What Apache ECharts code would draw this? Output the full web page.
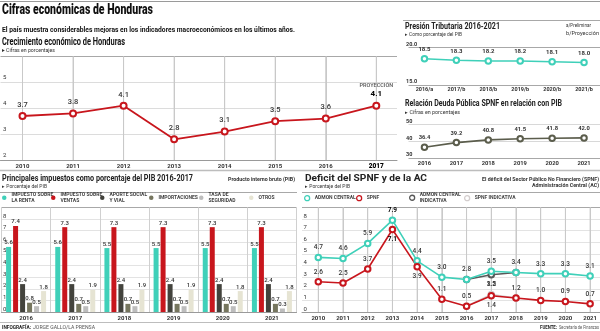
<!DOCTYPE html>
<html>
<head>
<meta charset="utf-8">
<script src="https://cdn.jsdelivr.net/npm/echarts@6/dist/echarts.min.js"></script>
<style>
  html, body { margin: 0; padding: 0; background: #fff; }
  #c { width: 600px; height: 331px; }
</style>
</head>
<body>
<div id="c"></div>
<script>
// ---- Crecimiento económico (%) ----
const growthYears = ['2010', '2011', '2012', '2013', '2014', '2015', '2016', '2017'];
const growthValues = [3.7, 3.8, 4.1, 2.8, 3.1, 3.5, 3.6, 4.1];

// ---- Presión tributaria (% del PIB) ----
const taxYears = ['2016/a', '2017/b', '2018/b', '2019/b', '2020/b', '2021/b'];
const taxPressure = [18.5, 18.3, 18.2, 18.2, 18.1, 18.0];

// ---- Deuda pública SPNF (% del PIB) ----
const debtYears = ['2016', '2017', '2018', '2019', '2020', '2021'];
const debtRatio = [36.4, 39.2, 40.8, 41.5, 41.8, 42.0];

// ---- Principales impuestos (% del PIB) ----
const taxBarYears = ['2016', '2017', '2018', '2019', '2020', '2021'];
const taxBarNames = ['IMPUESTO SOBRE\nLA RENTA', 'IMPUESTO SOBRE\nVENTAS', 'APORTE SOCIAL\nY VIAL', 'IMPORTACIONES', 'TASA DE\nSEGURIDAD', 'OTROS'];
const impuestoRenta = [5.6, 5.6, 5.5, 5.5, 5.5, 5.5];
const impuestoVentas = [7.4, 7.3, 7.3, 7.3, 7.3, 7.3];
const aporteSocial = [2.4, 2.4, 2.4, 2.4, 2.4, 2.4];
const importaciones = [0.8, 0.7, 0.7, 0.7, 0.7, 0.7];
const tasaSeguridad = [0.5, 0.5, 0.5, 0.5, 0.5, 0.3];
const otros = [1.8, 1.9, 1.9, 1.9, 1.8, 1.8];

// ---- Déficit SPNF y Administración Central (% del PIB) ----
const deficitYears = ['2010', '2011', '2012', '2013', '2014', '2015', '2016', '2017', '2018', '2019', '2020', '2021'];
const deficitNames = ['ADMON CENTRAL', 'SPNF', 'ADMON CENTRAL\nINDICATIVA', 'SPNF INDICATIVA'];
const admonCentral = [4.7, 4.6, 5.9, 7.9, 4.4, 3.0, 2.8, 3.5, 3.4, 3.3, 3.3, 3.1];
const spnf = [2.6, 2.5, 3.7, 7.1, 3.9, 1.1, 0.5, 1.4, 1.2, 1.0, 0.9, 0.7];
const admonCentralIndicativa = [null, null, null, null, null, null, 2.8, 3.2, 3.4, null, null, null];
const spnfIndicativa = [null, null, null, null, null, null, 0.5, 1.5, 1.2, null, null, null];

const FONT = 'Roboto, "Noto Sans", sans-serif';
const RED = '#c8161d';
const TEAL = '#3fd0b9';
const OLIVE = '#5b5d4c';
const barColors = [TEAL, RED, '#43433d', '#76765f', '#bdbdbd', '#e6e4d3'];
const deficitColors = [TEAL, RED, '#585858', '#d3cdcd'];
const FAINT = '#e3e3e3';
const VGRID = '#c9c9c9';
const RULE = '#a8a8a8';

// Condensed header text: measured, then squeezed horizontally to the set width.
const measure = document.createElement('canvas').getContext('2d');
function headText(text, x, y, size, weight, width, fill, align) {
  const font = weight + ' ' + size + 'px ' + FONT;
  measure.font = font;
  const w = measure.measureText(text).width;
  return {
    type: 'text', x: x, y: y, scaleX: width ? width / w : 1, silent: true,
    style: {
      text: text, font: font, fill: fill || '#1a1a1a',
      align: align || 'left', textAlign: align || 'left',
      verticalAlign: 'middle', textVerticalAlign: 'middle'
    }
  };
}
function rule(x1, y1, x2, y2, color, width) {
  return { type: 'line', silent: true, shape: { x1: x1, y1: y1, x2: x2, y2: y2 },
    style: { stroke: color || RULE, lineWidth: width || 1 } };
}

const graphics = [
  rule(0, 1.5, 600, 1.5, '#9a9a9a', 1),
  rule(0, 170.5, 600, 170.5, '#bdbdbd', 1.5),
  rule(403, 20.5, 600, 20.5, RULE, 1),
  rule(0, 192.5, 297, 192.5, RULE, 1),
  rule(302, 192.5, 600, 192.5, RULE, 1),
  rule(0, 322.5, 600, 322.5, '#bdbdbd', 1),
  headText('Cifras económicas de Honduras', 2, 10.5, 15, 900, 151, '#111'),
  headText('El país muestra considerables mejoras en los indicadores macroeconómicos en los últimos años.', 2, 30, 8, 'bold', 293, '#111'),
  headText('Crecimiento económico de Honduras', 2, 42.5, 10, 'bold', 123, '#111'),
  headText('▸ Cifras en porcentajes', 2, 51, 5.5, 'normal', 53, '#333'),
  headText('Presión Tributaria 2016-2021', 405, 26.5, 9, 'bold', 95, '#222'),
  headText('▸ Como porcentaje del PIB', 405, 35, 5, 'normal', 57, '#333'),
  headText('a/Preliminar', 566, 26, 5, 'normal', 25, '#333'),
  headText('b/Proyección', 566, 33.5, 5, 'normal', 33, '#333'),
  headText('Relación Deuda Pública SPNF en relación con PIB', 405, 103.5, 9, 'bold', 157, '#222'),
  headText('▸ Cifras en porcentajes', 405, 112.5, 5, 'normal', 55, '#333'),
  headText('Principales impuestos como porcentaje del PIB 2016-2017', 2, 178.5, 9, 'bold', 191, '#222'),
  headText('Producto interno bruto (PIB)', 295, 180, 5, 'bold', 67, '#333', 'right'),
  headText('▸ Porcentaje del PIB', 2, 186.5, 5, 'normal', 45, '#333'),
  headText('Deficit del SPNF y de la AC', 305, 178.5, 9, 'bold', 122, '#222'),
  headText('▸ Porcentaje del PIB', 305, 187, 5, 'normal', 45, '#333'),
  headText('El déficit del Sector Público No Financiero (SPNF)', 599, 180, 5, 'bold', 117, '#333', 'right'),
  headText('Administración Central (AC)', 599, 186, 5, 'bold', 67, '#333', 'right'),
  headText('INFOGRAFÍA:', 2, 328, 4.5, 'bold', 29, '#222'),
  headText('JORGE GALLO/LA PRENSA', 33, 328, 4.5, 'normal', 62, '#555'),
  headText('FUENTE:', 540, 328, 4.5, 'bold', 17, '#222'),
  headText('Secretaría de Finanzas', 599, 328, 4.5, 'normal', 40, '#555', 'right')
];

// Legends: one component per entry so each sits in its own column.
function legendEntry(name, left, top, color, hollow) {
  const two = name.indexOf('\n') >= 0;
  return {
    data: [name], left: left, top: two ? top - 5.5 : top, padding: 0,
    itemWidth: hollow ? 5 : 4.5, itemHeight: hollow ? 5 : 4.5, itemGap: 0, icon: 'circle', selectedMode: false,
    itemStyle: hollow ? { color: '#fff', borderColor: color, borderWidth: 1.3 } : { color: color },
    textStyle: { fontFamily: FONT, fontSize: 5, fontWeight: 'bold', color: '#444',
      lineHeight: 5.5, padding: two ? [5.5, 0, 0, 0] : 0 }
  };
}
const taxLegendLeft = [2, 51, 100, 149, 199, 249];
const deficitLegendLeft = [304, 356, 409, 464];
const legends = taxBarNames.map((n, i) => legendEntry(n, taxLegendLeft[i], 195, barColors[i], false))
  .concat(deficitNames.map((n, i) => legendEntry(n, deficitLegendLeft[i], 195, deficitColors[i], true)));

const fmt1 = v => Number(v).toFixed(1);
const xLabel = (margin, size) => ({ fontFamily: FONT, fontSize: size || 6, fontWeight: 'bold', color: '#333', margin: margin });
const none = () => ({ show: false });

// Line panels use two stacked grids: a full-width frame carrying the horizontal
// rules and y labels, and an inner plot spanning first-to-last year.
const grids = [
  { left: 0, top: 56.5, width: 397, height: 103.5 },        // 0 crecimiento: marco
  { left: 22.5, top: 56.5, width: 353.8, height: 103.5 },   // 1 crecimiento: trazo
  { left: 408.5, top: 47.5, width: 193, height: 37.5 },     // 2 presión tributaria
  { left: 408.5, top: 124.5, width: 193, height: 33.5 },    // 3 deuda
  { left: -0.5, top: 207.4, width: 297, height: 104.6 },    // 4 impuestos
  { left: 302, top: 207.4, width: 298, height: 104.6 },     // 5 déficit: marco
  { left: 318.3, top: 207.4, width: 272.8, height: 104.6 }  // 6 déficit: trazo
];

const frameX = (g) => ({ gridIndex: g, type: 'value', min: 0, max: 1,
  axisLine: { show: true, lineStyle: { color: '#9a9a9a' } }, axisTick: none(), axisLabel: none(), splitLine: none() });
const yearX = (g, years, extra) => ({ gridIndex: g, type: 'category', data: years, boundaryGap: false,
  axisLine: { show: true, lineStyle: { color: '#9a9a9a' } }, axisTick: { show: false, interval: 0 },
  axisLabel: Object.assign(xLabel(3, 6), { interval: 0 }, extra || {}),
  splitLine: { show: true, interval: 0, lineStyle: { color: VGRID, width: 1 } } });

const lastGrowthYear = growthYears[growthYears.length - 1];
const xAxes = [
  frameX(0),
  yearX(1, growthYears, {
    formatter: v => v === lastGrowthYear ? '{b|' + v + '}' : v,
    rich: { b: { fontFamily: FONT, fontSize: 6.5, fontWeight: 900, color: '#000' } } }),
  { gridIndex: 2, type: 'category', data: taxYears, boundaryGap: true,
    axisLine: none(), axisTick: none(), axisLabel: xLabel(2, 5.5), splitLine: none() },
  { gridIndex: 3, type: 'category', data: debtYears, boundaryGap: true,
    axisLine: none(), axisTick: none(), axisLabel: xLabel(3, 5.8), splitLine: none() },
  { gridIndex: 4, type: 'category', data: taxBarYears, boundaryGap: true,
    axisLine: { show: true, lineStyle: { color: '#9a9a9a' } }, axisTick: none(),
    axisLabel: xLabel(3, 6),
    splitLine: { show: true, lineStyle: { color: '#d0d0d0', width: 1 } } },
  frameX(5),
  yearX(6, deficitYears)
];

const yLabel = (margin, inside, fmt) => ({ inside: inside, margin: margin, align: 'left', verticalAlign: 'bottom',
  fontFamily: FONT, fontSize: 6, color: '#333', formatter: fmt });
const hiddenY = (g, min, max) => ({ gridIndex: g, type: 'value', min: min, max: max,
  axisLine: none(), axisTick: none(), axisLabel: none(), splitLine: none() });
const pctRules = ['#9a9a9a', FAINT, FAINT, FAINT, FAINT, FAINT, FAINT, FAINT, FAINT, RULE];

const yAxes = [
  { gridIndex: 0, type: 'value', min: 2, max: 6, interval: 1,
    axisLine: none(), axisTick: none(),
    axisLabel: Object.assign(yLabel(2.5, true, v => v === 6 ? '' : String(v)), { padding: [0, 0, 1.5, 0] }),
    splitLine: { lineStyle: { color: ['#a8a8a8', '#dcdcdc', '#dcdcdc', '#dcdcdc', '#a8a8a8'], width: 1 } } },
  hiddenY(1, 2, 6),
  { gridIndex: 2, type: 'value', min: 15, max: 20, interval: 5,
    axisLine: none(), axisTick: none(),
    axisLabel: Object.assign(yLabel(2.5, false, v => fmt1(v)), { fontWeight: 'bold', fontSize: 5.5 }),
    splitLine: { lineStyle: { color: '#a8a8a8', width: 1 } } },
  { gridIndex: 3, type: 'value', min: 30, max: 50, interval: 10,
    axisLine: none(), axisTick: none(),
    axisLabel: Object.assign(yLabel(2.5, false, v => String(v)), { fontWeight: 'bold', fontSize: 5.5 }),
    splitLine: { lineStyle: { color: ['#a8a8a8', '#d8d8d8', '#d8d8d8'], width: 1 } } },
  { gridIndex: 4, type: 'value', min: 0, max: 9, interval: 1,
    axisLine: none(), axisTick: none(),
    axisLabel: yLabel(1.5, true, v => v === 9 ? '' : String(v)),
    splitLine: { lineStyle: { color: pctRules, width: 1 } } },
  { gridIndex: 5, type: 'value', min: 0, max: 9, interval: 1,
    axisLine: none(), axisTick: none(),
    axisLabel: yLabel(1.5, true, v => v === 9 ? '' : String(v)),
    splitLine: { lineStyle: { color: pctRules, width: 1 } } },
  hiddenY(6, 0, 9)
];

const valueLabel = (size, weight, dist, pos) => ({
  show: true, position: pos || 'top', distance: dist, fontFamily: FONT,
  fontSize: size, fontWeight: weight, color: '#333', formatter: p => fmt1(p.value)
});

// Vertical year rules: a thin bar per year reaching the top of the value range.
function yearRules(xIdx, yIdx, years, top) {
  return {
    name: 'rules', type: 'bar', xAxisIndex: xIdx, yAxisIndex: yIdx, silent: true, z: 1,
    barWidth: 1, barGap: '-100%', data: years.map(() => top),
    itemStyle: { color: VGRID }, label: { show: false }, emphasis: { disabled: true }
  };
}

const series = [yearRules(1, 1, growthYears, 6), yearRules(6, 6, deficitYears, 9)];

// Crecimiento económico
const lastGrowth = growthValues.length - 1;
series.push({
  name: 'Crecimiento', type: 'line', xAxisIndex: 1, yAxisIndex: 1,
  data: growthValues,
  symbol: 'emptyCircle', symbolSize: 6,
  lineStyle: { color: RED, width: 1.8 }, itemStyle: { color: RED, borderWidth: 1.5 },
  label: Object.assign(valueLabel(7.5, 500, 3), {
    formatter: p => p.dataIndex === lastGrowth
      ? '{p|PROYECCIÓN}\n{b|' + fmt1(p.value) + '}' : fmt1(p.value),
    rich: {
      p: { fontFamily: FONT, fontSize: 5.5, color: '#555', lineHeight: 9 },
      b: { fontFamily: FONT, fontSize: 8, fontWeight: 'bold', color: '#000', lineHeight: 9 }
    }
  }),
  z: 5
});

// Presión tributaria
series.push({
  name: 'Presión tributaria', type: 'line', xAxisIndex: 2, yAxisIndex: 2,
  data: taxPressure, symbol: 'emptyCircle', symbolSize: 5.5,
  lineStyle: { color: TEAL, width: 1.6 }, itemStyle: { color: TEAL, borderWidth: 1.4 },
  label: valueLabel(6, 'bold', 2.5)
});

// Deuda pública
series.push({
  name: 'Deuda pública', type: 'line', xAxisIndex: 3, yAxisIndex: 3,
  data: debtRatio, symbol: 'emptyCircle', symbolSize: 5.5,
  lineStyle: { color: OLIVE, width: 1.6 }, itemStyle: { color: OLIVE, borderWidth: 1.4 },
  label: valueLabel(5.8, 'bold', 2.5)
});

// Principales impuestos
[impuestoRenta, impuestoVentas, aporteSocial, importaciones, tasaSeguridad, otros].forEach((vals, i) => {
  series.push({
    name: taxBarNames[i], type: 'bar', xAxisIndex: 4, yAxisIndex: 4,
    data: vals, barWidth: 5, barGap: '40%',
    itemStyle: { color: barColors[i] },
    label: valueLabel(6, 500, 1)
  });
});

// Déficit
const belowLabels = { 'SPNF': ['2013', '2014', '2017'], 'ADMON CENTRAL\nINDICATIVA': ['2017'] };
const boldLabels = ['2013'];
const labelledYears = { 'ADMON CENTRAL\nINDICATIVA': ['2017'], 'SPNF INDICATIVA': ['2017'] };
[admonCentralIndicativa, spnfIndicativa, admonCentral, spnf].forEach((vals, k) => {
  const idx = [2, 3, 0, 1][k];
  const name = deficitNames[idx];
  const color = deficitColors[idx];
  series.push({
    name: name, type: 'line', xAxisIndex: 6, yAxisIndex: 6,
    symbol: 'emptyCircle', symbolSize: 5.5, connectNulls: false,
    lineStyle: { color: color, width: 1.6 }, itemStyle: { color: color, borderWidth: 1.4 },
    z: k < 2 ? 2 : 4,
    data: deficitYears.map((y, i) => {
      if (vals[i] == null) return '-';
      const only = labelledYears[name];
      const below = (belowLabels[name] || []).indexOf(y) >= 0;
      const bold = boldLabels.indexOf(y) >= 0;
      return {
        value: vals[i],
        label: {
          show: !only || only.indexOf(y) >= 0,
          position: below ? 'bottom' : 'top',
          fontWeight: bold ? 'bold' : 500,
          color: bold ? '#000' : '#333'
        }
      };
    }),
    label: valueLabel(6.5, 500, 2.5)
  });
});

const chart = echarts.init(document.getElementById('c'), null, { renderer: 'canvas' });
chart.setOption({
  backgroundColor: '#fff',
  animation: false,
  textStyle: { fontFamily: FONT },
  grid: grids,
  xAxis: xAxes,
  yAxis: yAxes,
  legend: legends,
  series: series,
  graphic: graphics
});
</script>
</body>
</html>
